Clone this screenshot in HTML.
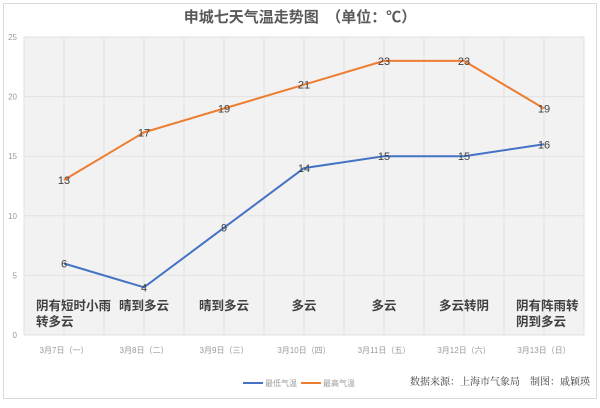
<!DOCTYPE html>
<html><head><meta charset="utf-8"><style>
body{margin:0;background:#fff;font-family:"Liberation Sans","Noto Sans CJK SC",sans-serif}
#wrap{position:relative;width:600px;height:403px}
</style></head><body>
<div id="wrap">
<svg id="chart" width="600" height="403" font-family="Liberation Sans, Noto Sans CJK SC, sans-serif"></svg>
</div>
<script>
const categories=["3月7日（一）","3月8日（二）","3月9日（三）","3月10日（四）","3月11日（五）","3月12日（六）","3月13日（日）"];
const weather=[["阴有短时小雨","转多云"],["晴到多云"],["晴到多云"],["多云"],["多云"],["多云转阴"],["阴有阵雨转","阴到多云"]];
const lowTemps=[6,4,9,14,15,15,16];
const highTemps=[13,17,19,21,23,23,19];
const yTicks=[0,5,10,15,20,25];
const NS="http://www.w3.org/2000/svg";
const svg=document.getElementById('chart');
const L=24,R=584,T=37,B=335,yMax=25;
const bw=(R-L)/categories.length;
const xS=i=>L+bw*(i+0.5);
const yS=v=>B-(v/yMax)*(B-T);
function mk(tag,attrs,parent){const e=document.createElementNS(NS,tag);for(const k in attrs)e.setAttribute(k,attrs[k]);(parent||svg).appendChild(e);return e;}
const border=mk('rect',{x:3.5,y:3.5,width:593,height:395,fill:'#fff',stroke:'#d9d9d9'});


const title=mk('text',{x:300,y:22,'text-anchor':'middle','font-size':15,'font-weight':'bold',fill:'#595959'});
title.textContent='申城七天气温走势图　（单位：℃）';


const plot=mk('rect',{x:L,y:T,width:R-L,height:B-T,fill:'#f2f2f2'});


for(let i=0;i<=categories.length*2;i++){const x=L+bw/2*i;const g=mk('line',{x1:x,x2:x,y1:T,y2:B,stroke:'#e2e2e2','stroke-width':1});

}
yTicks.forEach(t=>{const y=yS(t);const g=mk('line',{x1:L,x2:R,y1:y,y2:y,stroke:'#e2e2e2'});


const tx=mk('text',{x:17,y:y+3,'text-anchor':'end','font-size':8,fill:'#999'});tx.textContent=t;

});
categories.forEach((c,i)=>{const tx=mk('text',{x:xS(i),y:353,'text-anchor':'middle','font-size':8,fill:'#999'});tx.textContent=c;


weather[i].forEach((w,j)=>{const wt=mk('text',{x:i===0||i===6?xS(i)-28:xS(i),y:310+j*16,'text-anchor':i===0||i===6?'start':'middle','font-size':12.5,'font-weight':'bold',fill:'#404040'});wt.textContent=w;

});});
function series(data,color,name){const p=mk('polyline',{points:data.map((v,i)=>xS(i)+','+yS(v)).join(' '),fill:'none',stroke:color,'stroke-width':2});


data.forEach((v,i)=>{const t=mk('text',{x:xS(i),y:yS(v)+4,'text-anchor':'middle','font-size':11,fill:'#404040'});t.textContent=v;

});}
series(lowTemps,'#4472c4','low-temp');
series(highTemps,'#ed7d31','high-temp');
[['#4472c4','最低气温',243],['#ed7d31','最高气温',301]].forEach(([c,n,x])=>{const g=mk('g',{});


mk('line',{x1:x,x2:x+20,y1:383,y2:383,stroke:c,'stroke-width':2},g);
const t=mk('text',{x:x+22,y:386,'font-size':8,fill:'#999'},g);t.textContent=n;});
const src=mk('text',{x:590,y:385,'text-anchor':'end','font-size':10,fill:'#404040','font-family':'Noto Serif CJK SC, serif'});
src.textContent='数据来源：上海市气象局　制图：戚颖瑛';


</script>
</body></html>
